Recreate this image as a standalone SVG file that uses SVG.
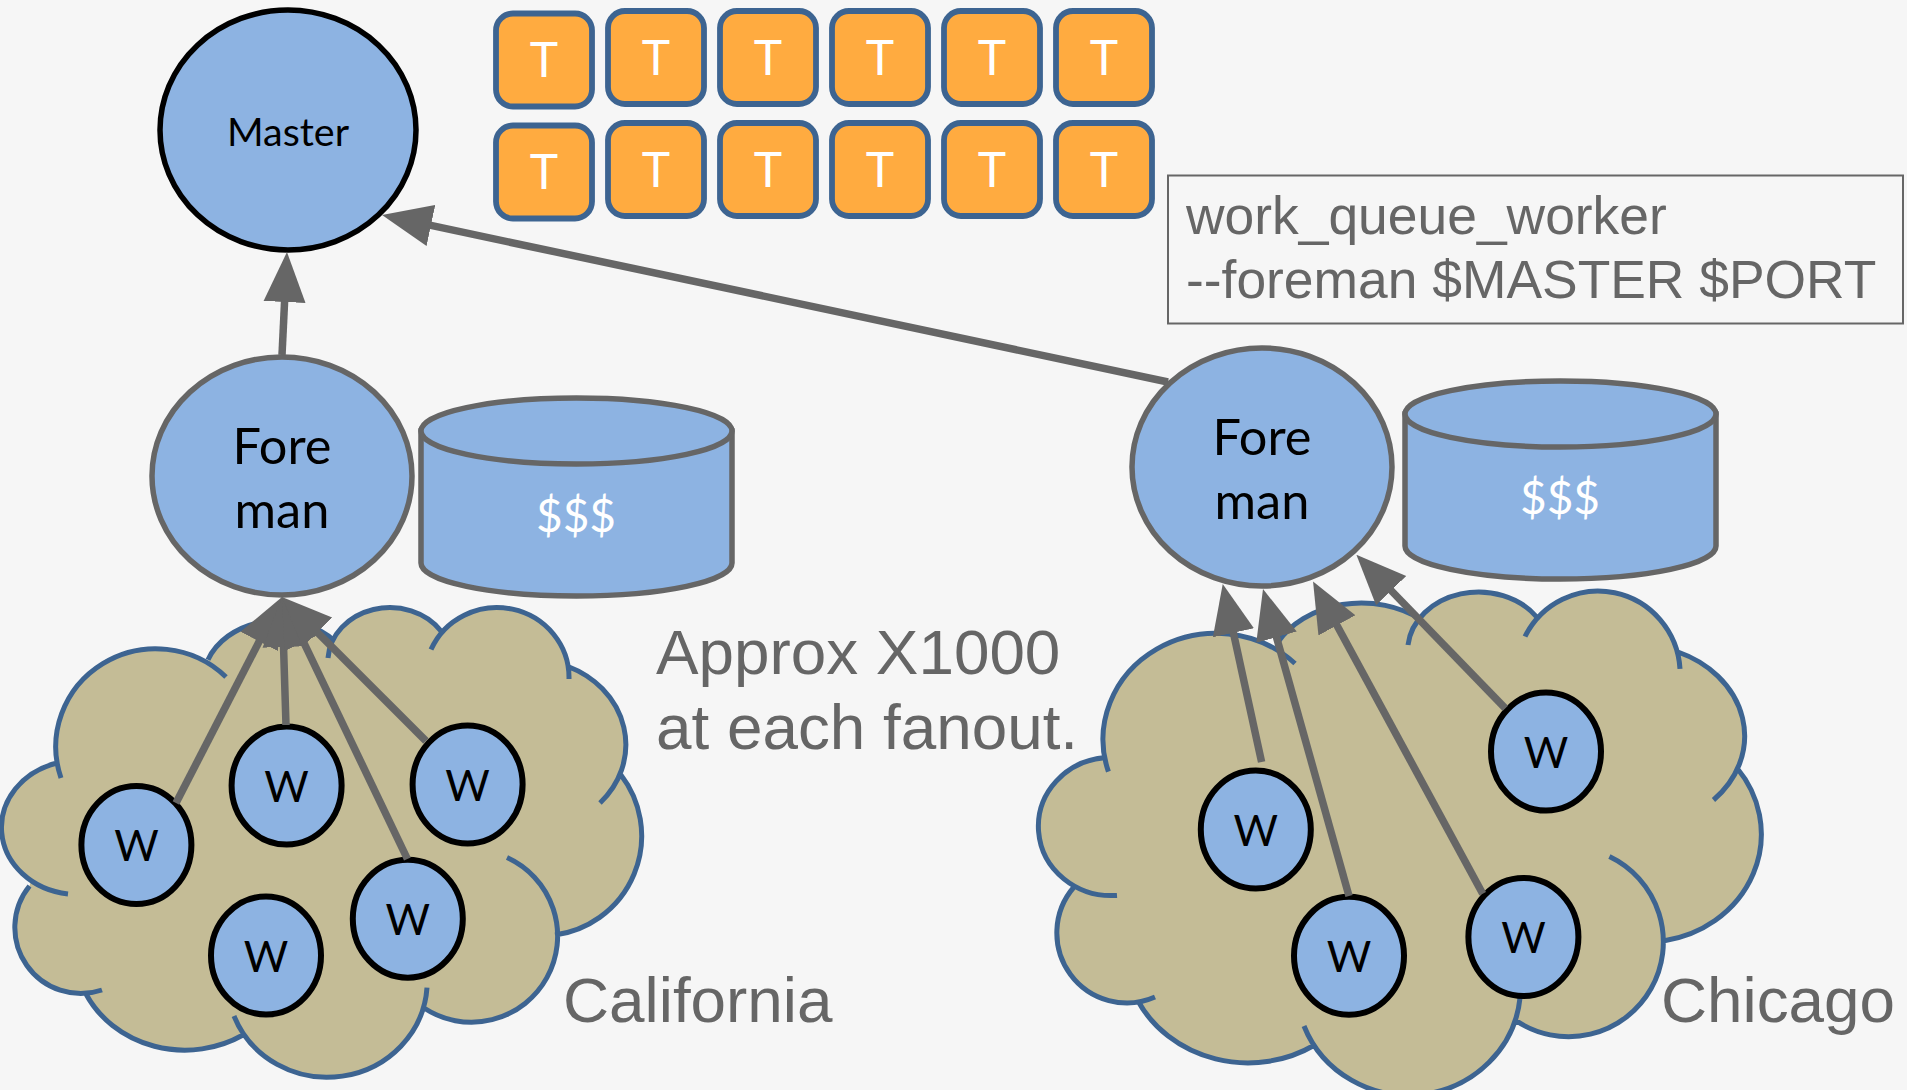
<svg xmlns="http://www.w3.org/2000/svg" width="1907" height="1090" viewBox="0 0 1907 1090">
<style>
.cf{fill:#c4bc96;stroke:none}
.cs{fill:none;stroke:#3d6491;stroke-width:5}
.big{fill:#8db3e2;stroke:#666;stroke-width:5.500}
.w{fill:#8db3e2;stroke:#000;stroke-width:6}
.wt{font:43px Lato,sans-serif;fill:#000;text-anchor:middle}
.nt{font:50.500px Lato,sans-serif;fill:#000;text-anchor:middle}
.task{fill:#ffab40;stroke:#3d6491;stroke-width:5.800}
.tt{font:48px Lato,sans-serif;fill:#fff;text-anchor:middle}
.dt{font:46px Lato,sans-serif;fill:#fff;text-anchor:middle}
.lab{font:63.800px "Liberation Sans",Arial,sans-serif;fill:#666}
.cmd{font:53.400px "Liberation Sans",Arial,sans-serif;fill:#666}
.c{fill:none;stroke:#666;stroke-width:7.500;marker-end:url(#ah)}
</style>
<defs>
<marker id="ah" markerUnits="userSpaceOnUse" markerWidth="50" markerHeight="44" refX="30" refY="22" orient="auto"><path d="M0,1 L50,22 L0,43 Z" fill="#666"/></marker>
</defs>
<rect width="1907" height="1090" fill="#f6f6f6"/>
<g id="cloud-california">
<path class="cf" d="M226 677L61 778L29.500 886L86 994L243 1035L424 1008L555 935L621 775L569 679L441 631L334.600 641ZM300 820L226 677A100 98 0 0 0 61 778ZM300 820L57 763A76 67 0 0 0 68 894ZM300 820L29.500 886A66 66 0 0 0 102 990ZM300 820L86 994A110 100 0 0 0 243 1035ZM300 820L234 1016A100 96 0 0 0 427 987.600ZM300 820L424 1008A86.200 86.200 0 1 0 507 857.500ZM300 820L555 935A100 100 0 0 0 621 775ZM300 820L600 803A95 85 0 0 0 568 666.500ZM300 820L569 679A72 70 0 0 0 431 649.600ZM300 820L441 631A62 54 0 0 0 328 658ZM300 820L334.600 641A75 60 0 0 0 208 659.700Z"/>
<path class="cs" d="M226 677A100 98 0 0 0 61 778M57 763A76 67 0 0 0 68 894M29.500 886A66 66 0 0 0 102 990M86 994A110 100 0 0 0 243 1035M234 1016A100 96 0 0 0 427 987.600M424 1008A86.200 86.200 0 1 0 507 857.500M555 935A100 100 0 0 0 621 775M600 803A95 85 0 0 0 568 666.500M569 679A72 70 0 0 0 431 649.600M441 631A62 54 0 0 0 328 658M334.600 641A75 60 0 0 0 208 659.700"/>
</g>
<g id="cloud-chicago">
<path class="cf" d="M1275 649L1108 772L1074 887L1138 1001L1315 1045L1516 1020L1664 940L1737 768L1680 669L1537 617L1420 619ZM1400 850L1295 663.500A113 106 0 0 0 1108.400 771.600ZM1400 850L1106 757.500A73 69 0 0 0 1117 895.400ZM1400 850L1074 887A70 70 0 0 0 1155 997ZM1400 850L1138 1001A123 112 0 0 0 1314.700 1045ZM1400 850L1304 1026A112 108 0 0 0 1520 998ZM1400 850L1516 1020.700A94.700 94.700 0 1 0 1609.400 856.500ZM1400 850L1664.400 940.700A116 108 0 0 0 1737 768ZM1400 850L1713.500 800A108 91 0 0 0 1678 652ZM1400 850L1680 668.800A82 83 0 0 0 1525 636.500ZM1400 850L1536.700 617A71 59 0 0 0 1408 645ZM1400 850L1420 619A95 75 0 0 0 1278 642Z"/>
<path class="cs" d="M1295 663.500A113 106 0 0 0 1108.400 771.600M1106 757.500A73 69 0 0 0 1117 895.400M1074 887A70 70 0 0 0 1155 997M1138 1001A123 112 0 0 0 1314.700 1045M1304 1026A112 108 0 0 0 1520 998M1516 1020.700A94.700 94.700 0 1 0 1609.400 856.500M1664.400 940.700A116 108 0 0 0 1737 768M1713.500 800A108 91 0 0 0 1678 652M1680 668.800A82 83 0 0 0 1525 636.500M1536.700 617A71 59 0 0 0 1408 645M1420 619A95 75 0 0 0 1278 642"/>
</g>
<g id="master"><ellipse cx="288" cy="130" rx="128" ry="120" fill="#8db3e2" stroke="#000" stroke-width="5.500"/><text x="288" y="146" font-family="Lato,sans-serif" font-size="39.500" text-anchor="middle" fill="#000">Master</text></g>
<g id="foreman-left"><ellipse class="big" cx="282" cy="476" rx="130" ry="119"/><text class="nt" x="282" y="464">Fore</text><text class="nt" x="282" y="528">man</text></g>
<g id="foreman-right"><ellipse class="big" cx="1262" cy="467" rx="130" ry="119"/><text class="nt" x="1262" y="455">Fore</text><text class="nt" x="1262" y="519">man</text></g>
<g id="store-left"><path class="big" d="M421 431V563A155.500 33 0 0 0 732 563V431Z"/><ellipse class="big" cx="576.500" cy="431" rx="155.500" ry="33"/><text class="dt" x="576" y="532">$$$</text></g>
<g id="store-right"><path class="big" d="M1405 414V546A155.500 33 0 0 0 1716 546V414Z"/><ellipse class="big" cx="1560.500" cy="414" rx="155.500" ry="33"/><text class="dt" x="1560" y="514">$$$</text></g>
<g id="w1"><ellipse class="w" cx="136.400" cy="845" rx="55" ry="59"/><text class="wt" x="136.400" y="861">W</text></g>
<g id="w2"><ellipse class="w" cx="286.600" cy="785.500" rx="55" ry="59"/><text class="wt" x="286.600" y="802">W</text></g>
<g id="w3"><ellipse class="w" cx="467.600" cy="784.500" rx="55" ry="59"/><text class="wt" x="467.600" y="801">W</text></g>
<g id="w4"><ellipse class="w" cx="407.800" cy="918.700" rx="55" ry="59"/><text class="wt" x="407.800" y="935">W</text></g>
<g id="w5"><ellipse class="w" cx="266" cy="955.500" rx="55" ry="59"/><text class="wt" x="266" y="972">W</text></g>
<g id="w6"><ellipse class="w" cx="1255.800" cy="829.500" rx="55" ry="59"/><text class="wt" x="1255.800" y="846">W</text></g>
<g id="w7"><ellipse class="w" cx="1349" cy="955.800" rx="55" ry="59"/><text class="wt" x="1349" y="972">W</text></g>
<g id="w8"><ellipse class="w" cx="1523.400" cy="937" rx="55" ry="59"/><text class="wt" x="1523.400" y="953">W</text></g>
<g id="w9"><ellipse class="w" cx="1546" cy="751.600" rx="55" ry="59"/><text class="wt" x="1546" y="768">W</text></g>
<g id="t1"><rect class="task" x="496" y="13.500" width="96" height="93" rx="17"/><text class="tt" x="544" y="77">T</text></g>
<g id="t2"><rect class="task" x="608" y="11" width="96" height="93" rx="17"/><text class="tt" x="656" y="75">T</text></g>
<g id="t3"><rect class="task" x="720" y="11" width="96" height="93" rx="17"/><text class="tt" x="768" y="75">T</text></g>
<g id="t4"><rect class="task" x="832" y="11" width="96" height="93" rx="17"/><text class="tt" x="880" y="75">T</text></g>
<g id="t5"><rect class="task" x="944" y="11" width="96" height="93" rx="17"/><text class="tt" x="992" y="75">T</text></g>
<g id="t6"><rect class="task" x="1056" y="11" width="96" height="93" rx="17"/><text class="tt" x="1104" y="75">T</text></g>
<g id="t7"><rect class="task" x="496" y="125.500" width="96" height="93" rx="17"/><text class="tt" x="544" y="189">T</text></g>
<g id="t8"><rect class="task" x="608" y="123" width="96" height="93" rx="17"/><text class="tt" x="656" y="187">T</text></g>
<g id="t9"><rect class="task" x="720" y="123" width="96" height="93" rx="17"/><text class="tt" x="768" y="187">T</text></g>
<g id="t10"><rect class="task" x="832" y="123" width="96" height="93" rx="17"/><text class="tt" x="880" y="187">T</text></g>
<g id="t11"><rect class="task" x="944" y="123" width="96" height="93" rx="17"/><text class="tt" x="992" y="187">T</text></g>
<g id="t12"><rect class="task" x="1056" y="123" width="96" height="93" rx="17"/><text class="tt" x="1104" y="187">T</text></g>
<g id="command"><rect x="1168" y="175.500" width="735" height="148" fill="none" stroke="#666" stroke-width="2"/><text class="cmd" x="1186" y="234">work_queue_worker</text><text class="cmd" x="1186" y="298">--foreman $MASTER $PORT</text></g>
<g id="labels"><text class="lab" x="656" y="673.500">Approx X1000</text><text class="lab" x="656" y="749">at each fanout.</text><text class="lab" x="563" y="1022">California</text><text class="lab" x="1661" y="1022">Chicago</text></g>
<g id="connectors">
<path class="c" d="M282 355L286 272"/>
<path class="c" d="M1168 382L401.600 219.200"/>
<path class="c" d="M176 803L272.900 614.800"/>
<path class="c" d="M286 725L282.600 617"/>
<path class="c" d="M407.400 859L290.600 615"/>
<path class="c" d="M426 741L296.100 611.100"/>
<path class="c" d="M1261.600 762L1227 603.500"/>
<path class="c" d="M1349 896L1268.400 608.300"/>
<path class="c" d="M1482.700 893.700L1322.600 599"/>
<path class="c" d="M1505.300 708.400L1370.300 569"/>
</g>
</svg>
